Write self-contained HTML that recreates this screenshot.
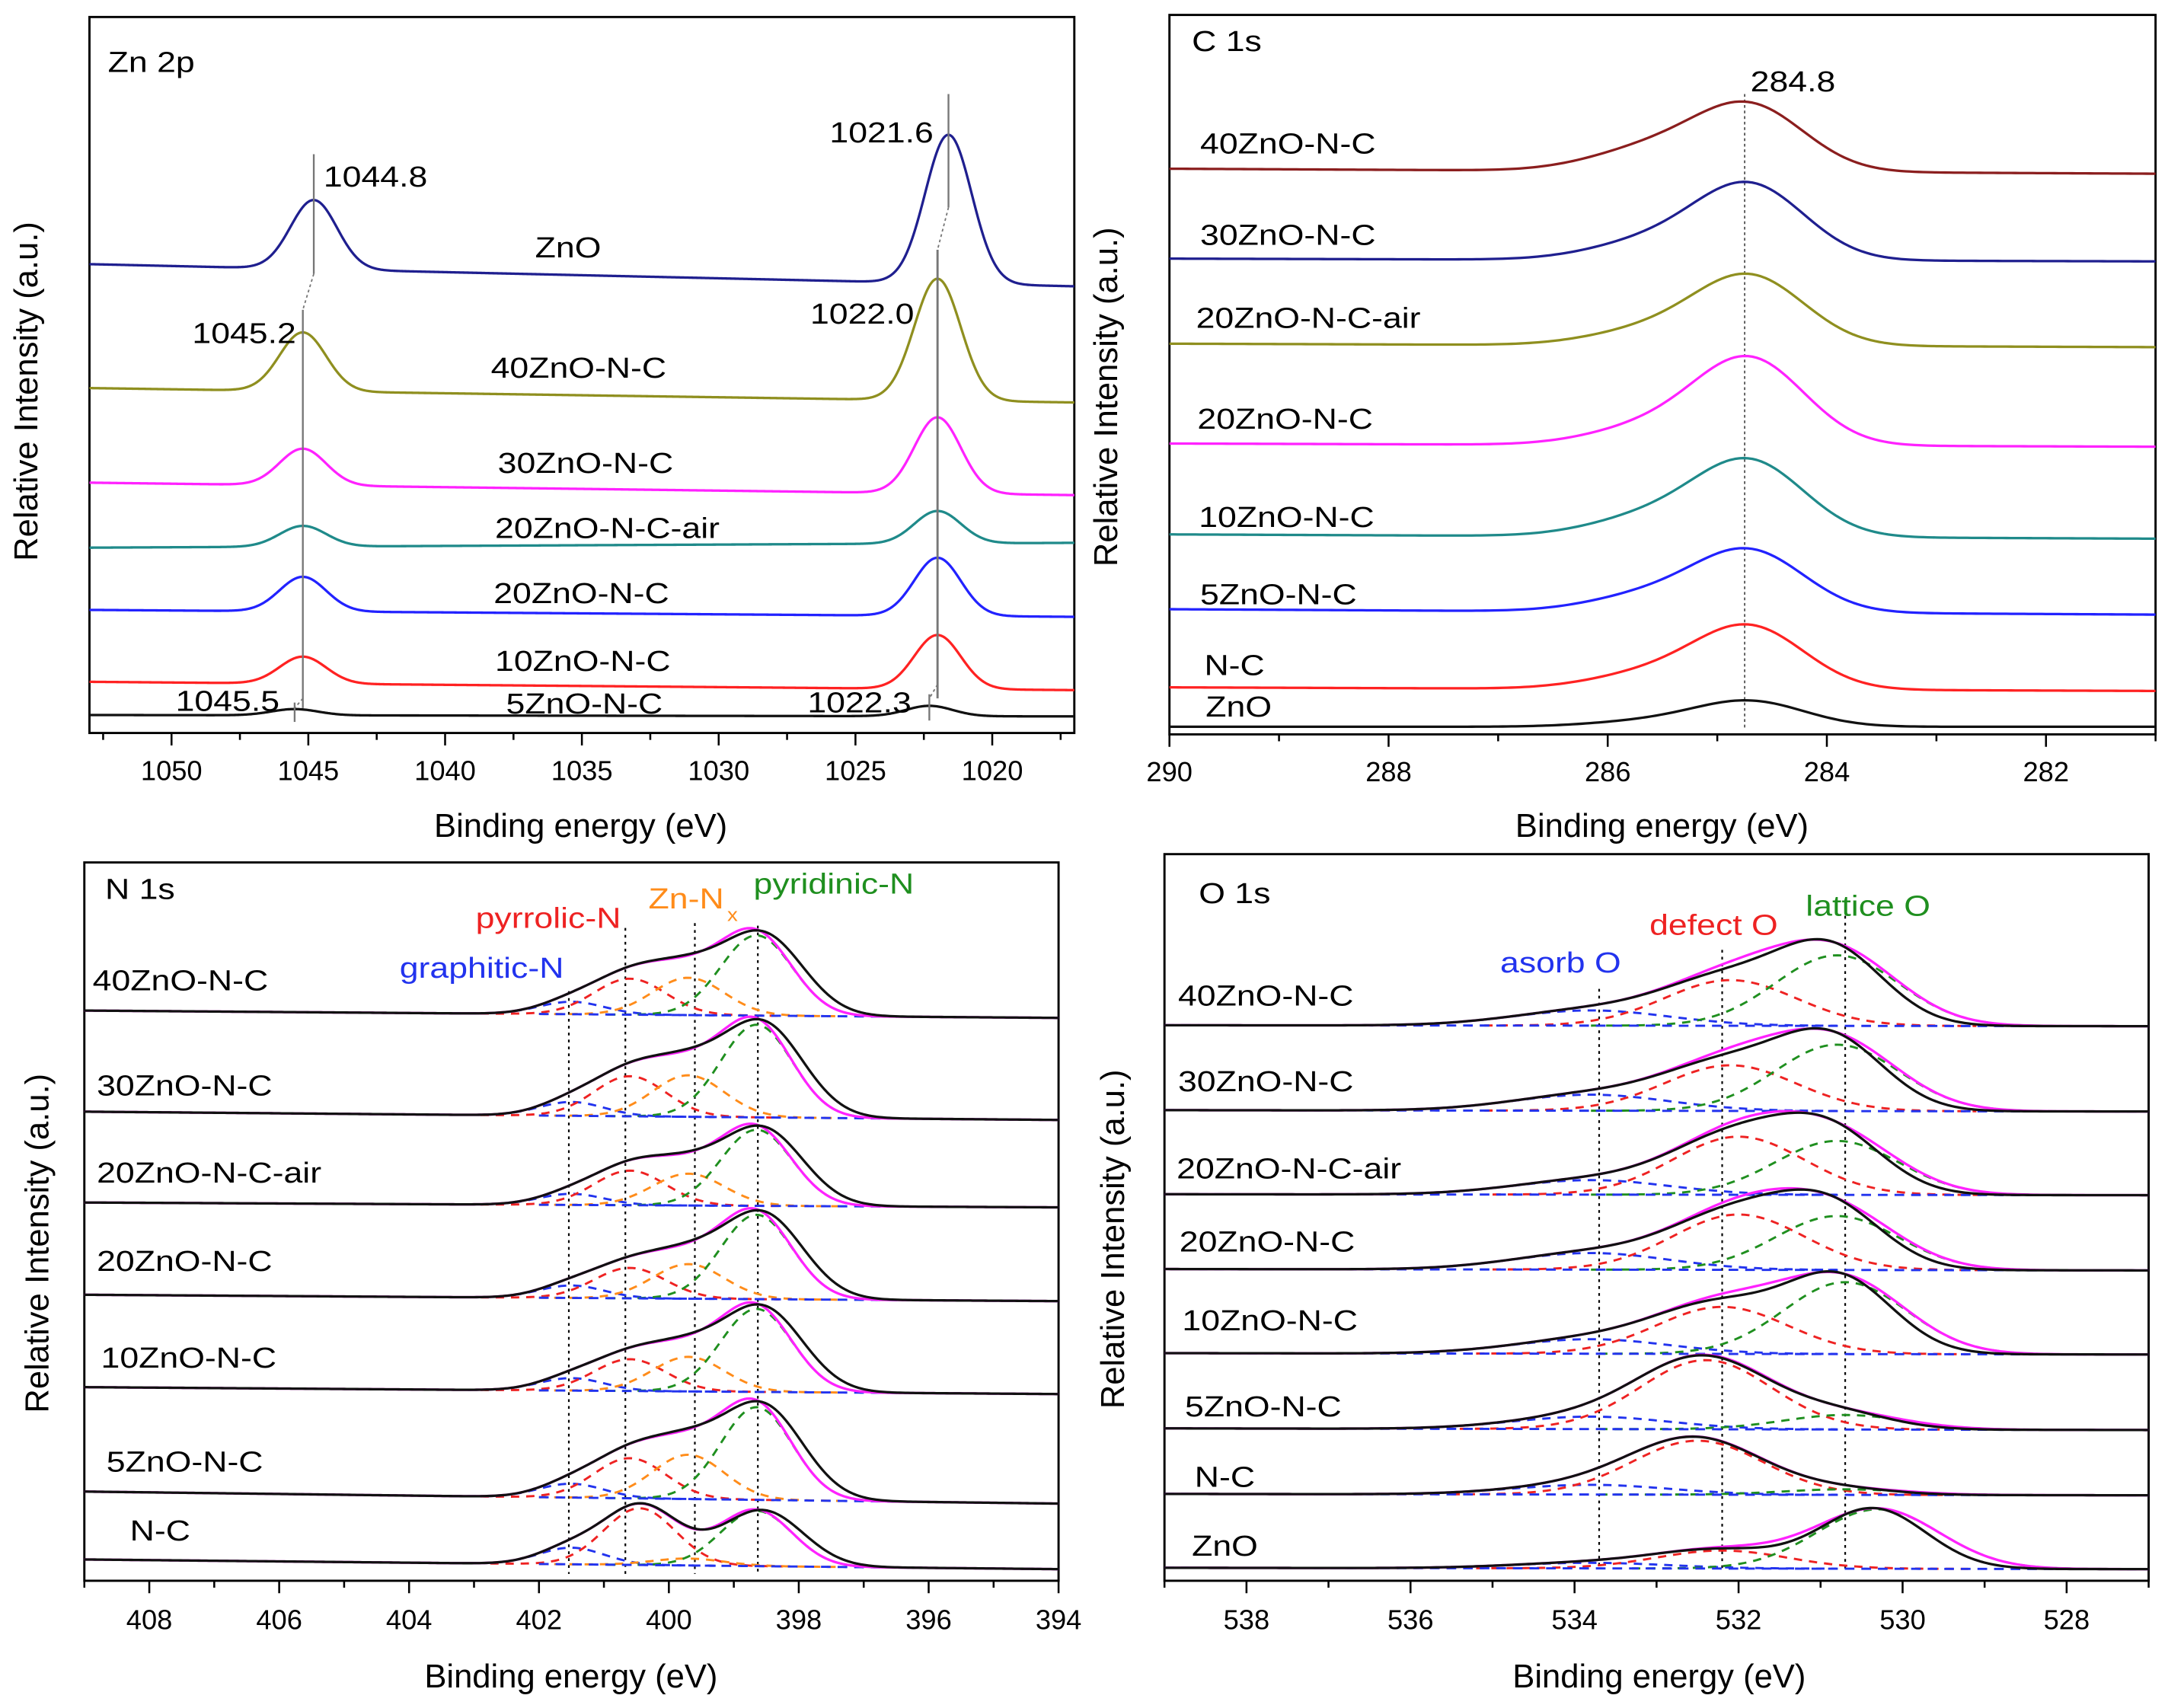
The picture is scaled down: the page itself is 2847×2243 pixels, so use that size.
<!DOCTYPE html>
<html><head><meta charset="utf-8"><title>XPS spectra</title>
<style>html,body{margin:0;padding:0;background:#fff;}svg{display:block;}</style></head>
<body>
<svg id="fig" xmlns="http://www.w3.org/2000/svg" width="2847" height="2243" viewBox="0 0 1568 1235" preserveAspectRatio="none" font-family="'Liberation Sans', Arial, sans-serif"></svg>
<script>
// ---------- Zn 2p data ----------
const znSamples = ['ZnO','40ZnO-N-C','30ZnO-N-C','20ZnO-N-C-air','20ZnO-N-C','10ZnO-N-C','5ZnO-N-C'];
const znBaseL = [339,249.4,181,134,89,37,13];
const znBaseR = [323,239,172,137.5,84,31,12];
const znP1Pos = [1044.8,1045.2,1045.2,1045.2,1045.2,1045.2,1045.5];
const znP1Amp = [50,42.5,26.5,15,25,19.5,4.5];
const znP3Pos = [1021.6,1022.0,1022.0,1022.0,1022.0,1022.0,1022.3];
const znP3Amp = [107.5,88,55,23.5,42,39,7.5];
const znTicks = [1050,1045,1040,1035,1030,1025,1020];
// ---------- C 1s data ----------
const cSamples = ['40ZnO-N-C','30ZnO-N-C','20ZnO-N-C-air','20ZnO-N-C','10ZnO-N-C','5ZnO-N-C','N-C','ZnO'];
const cBaseL = [409,344,282.5,210.3,144.6,90.5,34,5.5];
const cBaseR = [405.4,342,280,208,141.5,86.6,31.4,5.5];
const cAmp = [46,53,49,61,53,43,44,18];
const cShoulder = [16,13,11,13,14,12,11,4];
const cTicks = [290,288,286,284,282];
// ---------- N 1s data ----------
const nSamples = ['40ZnO-N-C','30ZnO-N-C','20ZnO-N-C-air','20ZnO-N-C','10ZnO-N-C','5ZnO-N-C','N-C'];
const nBaseL = [412.3,339.2,273.5,206.8,140,64.5,15.4];
const nBaseR = [407,333.2,270,202.2,135,55.8,8.4];
const nPyridinic = [58,67,55,61,60,67,40];
const nZnNx = [27,30,23,25,25,32,5];
const nPyrrolic = [26,29,25,22,23,29,41];
const nGraphitic = [9,10,8,9,9,10,12];
const nTicks = [408,406,404,402,400,398,396,394];
// ---------- O 1s data ----------
const oSamples = ['40ZnO-N-C','30ZnO-N-C','20ZnO-N-C-air','20ZnO-N-C','10ZnO-N-C','5ZnO-N-C','N-C','ZnO'];
const oBaseL = [401.7,340.3,279.5,225.4,164.6,110.2,62.8,9.4];
const oBaseR = [401,339.3,278.8,224.4,163.6,109,61.8,8.4];
const oLattice = [51,48,39,39,52,10.5,4,43];
const oLatticePos = [530.8,530.8,530.8,530.8,530.7,530.7,530.7,530.3];
const oDefect = [33,33,42,40,34,50,39,13];
const oDefectPos = [532.1,532.1,532.0,532.0,532.2,532.4,532.5,532.2];
const oAdsorb = [11,11.6,10.5,12,10.5,9,7,4];
const oTicks = [538,536,534,532,530,528];

const NS='http://www.w3.org/2000/svg';
const svg=document.getElementById('fig');
function mk(tag,attrs,parent){const e=document.createElementNS(NS,tag);for(const k in attrs)e.setAttribute(k,attrs[k]);(parent||svg).appendChild(e);return e;}
function g(c,s,e){return Math.exp(-(e-c)*(e-c)/(2*s*s));}
function label(x,y,txt,color,size,sx,name,anchor){
  const t=mk('text',{transform:`translate(${x},${y}) scale(${sx},1)`,'font-size':size,fill:color,'text-anchor':anchor||'start'});
  t.textContent=txt;
  
  
  return t;
}
function line(x1,y1,x2,y2,stroke,w,dash,name){
  const l=mk('line',{x1,y1,x2,y2,stroke,'stroke-width':w});
  if(dash)l.setAttribute('stroke-dasharray',dash);
  
  
  return l;
}
function curve(xf,yf,e0,e1,fn,stroke,w,dash,name){
  let d='';const n=Math.ceil(Math.abs(e1-e0)/0.04);
  for(let i=0;i<=n;i++){const e=e0+(e1-e0)*i/n;d+=(i?'L':'M')+xf(e).toFixed(2)+','+yf(fn(e)).toFixed(2);}
  const p=mk('path',{d,fill:'none',stroke,'stroke-width':w,'stroke-linejoin':'round'});
  if(dash)p.setAttribute('stroke-dasharray',dash);
  
  
  return p;
}
function panel(p){
  const xf=e=>p.l+(e-p.e0)*(p.r-p.l)/(p.e1-p.e0);
  const yf=v=>p.b-v;
  const fr=mk('rect',{x:p.l,y:p.t,width:p.r-p.l,height:p.b-p.t,fill:'none',stroke:'#000','stroke-width':1.6});
  
  
  const lo=Math.min(p.e0,p.e1),hi=Math.max(p.e0,p.e1);
  for(let e=Math.ceil(lo/p.minor)*p.minor;e<=hi+1e-6;e+=p.minor){
    const isMaj=p.ticks.some(t=>Math.abs(t-e)<1e-6);
    line(xf(e),p.b,xf(e),p.b+(isMaj?9:5),'#000',1.4,null,p.name+(isMaj?'-major-tick':'-minor-tick'));
  }
  p.ticks.forEach(t=>label(xf(t),p.tickY,String(t),'#000',20,1,p.name+'-x-tick-label','middle'));
  label(p.titleX,p.titleY,'Binding energy (eV)','#000',24,1,p.name+'-x-axis-title','middle');
  const yt=mk('text',{transform:`translate(${p.yTitleX},${p.yTitleY}) rotate(-90)`,'font-size':24,'text-anchor':'middle',fill:'#000'});
  yt.textContent='Relative Intensity (a.u.)';
  
  
  return {xf,yf};
}
const SX=1.17;

// ================= Zn 2p =================
(function(){
  const P={l:64.7,r:777,t:12.3,b:530,e0:1053,e1:1017,ticks:znTicks,minor:2.5,tickY:564,titleX:420,titleY:605,yTitleX:27,yTitleY:283,name:'zn2p'};
  const {xf,yf}=panel(P);
  const cols=['#1f1f8f','#8f8f1f','#ff22ff','#1f8a8a','#2222ff','#ff2222','#111'];
  znSamples.forEach((s,i)=>{
    const fn=e=>{const f=(P.e0-e)/(P.e0-P.e1);return znBaseL[i]+(znBaseR[i]-znBaseL[i])*f+znP1Amp[i]*g(znP1Pos[i],0.85,e)+znP3Amp[i]*g(znP3Pos[i],0.85,e);};
    curve(xf,yf,P.e0,P.e1,fn,cols[i],1.8,null,'zn2p-curve-'+s);
  });
  line(xf(1044.8),111.5,xf(1044.8),198,'#777',1.3,null,'zn2p-guide');
  line(xf(1044.8),198,xf(1045.2),224,'#777',1,'2,2','zn2p-guide-dotted');
  line(xf(1045.2),224,xf(1045.2),512,'#777',1.3,null,'zn2p-guide');
  line(xf(1045.2),505,xf(1045.5),512,'#777',1,'2,2','zn2p-guide-dotted');
  line(xf(1045.5),508,xf(1045.5),522,'#777',1.3,null,'zn2p-guide');
  line(xf(1021.6),68,xf(1021.6),150,'#777',1.3,null,'zn2p-guide');
  line(xf(1021.6),150,xf(1022.0),180.6,'#777',1,'2,2','zn2p-guide-dotted');
  line(xf(1022.0),180.6,xf(1022.0),505,'#777',1.6,null,'zn2p-guide');
  line(xf(1022.0),495,xf(1022.3),505,'#777',1,'2,2','zn2p-guide-dotted');
  line(xf(1022.3),502,xf(1022.3),521,'#777',1.3,null,'zn2p-guide');
  label(78,52,'Zn 2p','#000',21,SX,'zn2p-panel-title');
  label(234,135,'1044.8','#000',21,SX,'zn2p-peak-label');
  label(600,103,'1021.6','#000',21,SX,'zn2p-peak-label');
  label(139,248,'1045.2','#000',21,SX,'zn2p-peak-label');
  label(586,234,'1022.0','#000',21,SX,'zn2p-peak-label');
  label(127,514,'1045.5','#000',21,SX,'zn2p-peak-label');
  label(584,515,'1022.3','#000',21,SX,'zn2p-peak-label');
  const lx=[387,355,360,358,357,358,366],ly=[186,273,342,389,436,485,516];
  znSamples.forEach((s,i)=>label(lx[i],ly[i],s,'#000',21,SX,'zn2p-sample-label'));
})();

// ================= C 1s =================
(function(){
  const P={l:845.8,r:1559,t:10.8,b:531,e0:290,e1:281,ticks:cTicks,minor:1,tickY:565,titleX:1202,titleY:605,yTitleX:808,yTitleY:287,name:'c1s'};
  const {xf,yf}=panel(P);
  line(xf(284.75),68,xf(284.75),528,'#555',1,'2,2','c1s-reference-line');
  const cols=['#8b1e1e','#1f1f8f','#8f8f1f','#ff22ff','#1f8a8a','#2222ff','#ff2222','#111'];
  cSamples.forEach((s,i)=>{
    const fn=e=>{const f=(P.e0-e)/(P.e0-P.e1);return cBaseL[i]+(cBaseR[i]-cBaseL[i])*f+cAmp[i]*g(284.7,0.5,e)+cShoulder[i]*g(285.6,0.55,e);};
    curve(xf,yf,P.e0,P.e1,fn,cols[i],1.8,null,'c1s-curve-'+s);
  });
  label(862,37,'C 1s','#000',21,SX,'c1s-panel-title');
  label(1266,66,'284.8','#000',21,SX,'c1s-peak-label');
  const lx=[868,868,865,866,867,868,871,872],ly=[111,177,237,310,381,437,488,518];
  cSamples.forEach((s,i)=>label(lx[i],ly[i],s,'#000',21,SX,'c1s-sample-label'));
})();

// ================= N 1s =================
(function(){
  const P={l:61,r:765.6,t:623.6,b:1143,e0:409,e1:394,ticks:nTicks,minor:1,tickY:1178,titleX:413,titleY:1220,yTitleX:35,yTitleY:899,name:'n1s'};
  const {xf,yf}=panel(P);
  const vl=[[401.54,716.7],[400.67,671],[399.6,667.5],[398.63,669.3]];
  vl.forEach(v=>line(xf(v[0]),v[1],xf(v[0]),1138,'#000',1.2,'2,3','n1s-reference-line'));
  nSamples.forEach((s,i)=>{
    const cp=(i===6)?400.45:400.6;
    const base=e=>{const f=(P.e0-e)/(P.e0-P.e1);return nBaseL[i]+(nBaseR[i]-nBaseL[i])*f;};
    const comps=[[nGraphitic[i],401.5,0.5,'#2233ee','graphitic'],[nPyrrolic[i],cp,0.55,'#ee2222','pyrrolic'],[nZnNx[i],399.7,0.55,'#ff8c1a','znnx'],[nPyridinic[i],398.65,0.55,'#1f8f1f','pyridinic']];
    const env=e=>base(e)+comps.reduce((a,c)=>a+c[0]*g(c[1],c[2],e),0);
    const meas=e=>base(e)+comps.reduce((a,c)=>a+c[0]*g(c[1]-(c[4]==='pyridinic'?0.1:0),c[2]*(c[4]==='pyridinic'?1.12:1),e),0);
    comps.forEach(c=>curve(xf,yf,c[1]+2.3,c[1]-2.3,e=>base(e)+c[0]*g(c[1],c[2],e),c[3],1.6,'6,5','n1s-component-'+c[4]));
    curve(xf,yf,402,P.e1,base,'#2233ee',1.6,'7,5','n1s-baseline');
    curve(xf,yf,P.e0,P.e1,env,'#ff22ff',1.8,null,'n1s-fit-envelope');
    curve(xf,yf,P.e0,P.e1,meas,'#111',1.8,null,'n1s-measured-'+s);
  });
  label(76,650,'N 1s','#000',21,SX,'n1s-panel-title');
  label(289,707,'graphitic-N','#2233ee',21,SX,'graphitic-n-label');
  label(344,671,'pyrrolic-N','#ee2222',21,SX,'pyrrolic-n-label');
  label(469,657,'Zn-N','#ff8c1a',21,SX,'zn-nx-label');
  label(526,666,'x','#ff8c1a',13,SX,'zn-nx-subscript');
  label(545,646,'pyridinic-N','#1f8f1f',21,SX,'pyridinic-n-label');
  const lx=[67,70,70,70,73,77,94],ly=[716,792,855,919,989,1064,1114];
  nSamples.forEach((s,i)=>label(lx[i],ly[i],s,'#000',21,SX,'n1s-sample-label'));
})();

// ================= O 1s =================
(function(){
  const P={l:842.2,r:1554,t:617.6,b:1143,e0:539.0,e1:527.0,ticks:oTicks,minor:1,tickY:1178,titleX:1200,titleY:1220,yTitleX:813,yTitleY:896,name:'o1s'};
  const {xf,yf}=panel(P);
  const vl=[[533.7,715],[532.2,686.8],[530.7,662.2]];
  vl.forEach(v=>line(xf(v[0]),v[1],xf(v[0]),1135,'#000',1.2,'2,3','o1s-reference-line'));
  oSamples.forEach((s,i)=>{
    const base=e=>{const f=(P.e0-e)/(P.e0-P.e1);return oBaseL[i]+(oBaseR[i]-oBaseL[i])*f;};
    const comps=[[oAdsorb[i],533.8,0.95,'#2233ee','adsorb'],[oDefect[i],oDefectPos[i],0.8,'#ee2222','defect'],[oLattice[i],oLatticePos[i],0.75,'#1f8f1f','lattice']];
    const env=e=>base(e)+comps.reduce((a,c)=>a+c[0]*g(c[1],c[2],e),0);
    const meas=e=>base(e)+comps.reduce((a,c)=>a+c[0]*g(c[1]+(c[4]==='lattice'?0.05:0),c[2]*(c[4]==='lattice'?0.85:1),e),0);
    comps.forEach(c=>curve(xf,yf,c[1]+3,c[1]-3,e=>base(e)+c[0]*g(c[1],c[2],e),c[3],1.6,'6,5','o1s-component-'+c[4]));
    curve(xf,yf,P.e0,P.e1,base,'#2233ee',1.6,'7,5','o1s-baseline');
    curve(xf,yf,P.e0,P.e1,env,'#ff22ff',1.8,null,'o1s-fit-envelope');
    curve(xf,yf,P.e0,P.e1,meas,'#111',1.8,null,'o1s-measured-'+s);
  });
  label(867,653,'O 1s','#000',21,SX,'o1s-panel-title');
  label(1085,703,'asorb O','#2233ee',21,SX,'asorb-o-label');
  label(1193,676,'defect O','#ee2222',21,SX,'defect-o-label');
  label(1306,662,'lattice O','#1f8f1f',21,SX,'lattice-o-label');
  const lx=[852,852,851,853,855,857,864,862],ly=[727,789,852,905,962,1024,1075,1125];
  oSamples.forEach((s,i)=>label(lx[i],ly[i],s,'#000',21,SX,'o1s-sample-label'));
})();
</script>
</body></html>
